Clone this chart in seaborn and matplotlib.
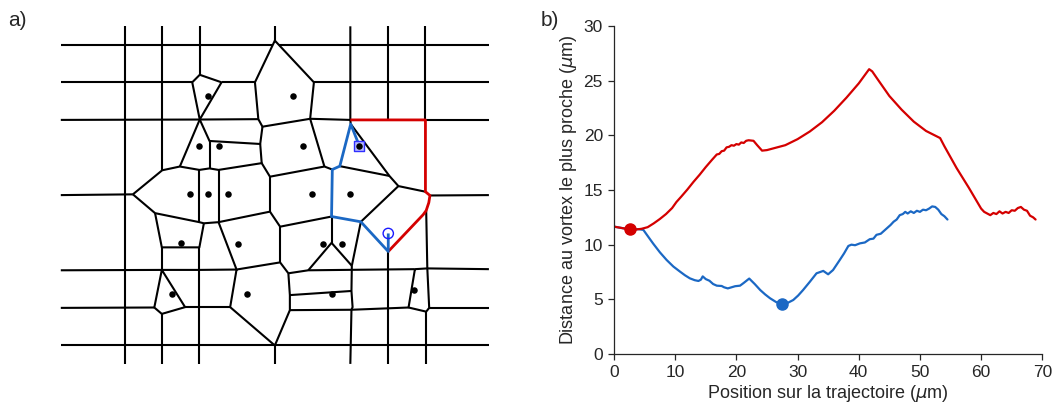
import numpy as np
import pandas as pd
import matplotlib
matplotlib.use("Agg")
import matplotlib.pyplot as plt
import seaborn as sns

sns.set_style("ticks")
plt.rcParams['font.family'] = ['Liberation Sans', 'DejaVu Sans']

# ---------------- Panel a) : Voronoi-like diagram (lattice units) ----------------
E, R, T, B = -1.71, 9.69, -0.49, 8.49
black_edges = [
    [(E, 0), (3.93, 0)], [(4.10, 0), (R, 0)],
    [(E, 1), (1.79, 1.0)], [(2.57, 1.0), (3.46, 1.0)], [(5.03, 1.0), (R, 1.0)],
    [(E, 2), (1.99, 1.99)], [(1.99, 1.99), (3.55, 1.98)], [(4.93, 1.97), (6.0, 2.0)],
    [(8.0, 2.0), (R, 2.0)],
    [(E, 4), (0.21, 3.98)], [(8.12, 4.01), (R, 4.0)],
    [(E, 6), (0.98, 5.99), (1.98, 5.99), (2.97, 5.98)],
    [(4.35, 6.08), (4.88, 6.0), (7.72, 5.97)], [(8.05, 5.95), (R, 5.97)],
    [(E, 7), (0.78, 6.99)], [(1.60, 6.98), (2.80, 6.98)],
    [(4.39, 7.06), (6.03, 7.05), (7.55, 6.99)], [(8.10, 7.0), (R, 7.0)],
    [(E, 8), (R, 8)],
    [(0, T), (0, B)], [(0.99, T), (0.99, 3.34)], [(0.98, 5.39), (0.98, 5.99)],
    [(0.98, 7.16), (0.98, B)], [(1.99, T), (1.99, 0.80)], [(1.98, 5.39), (1.98, B)],
    [(3.99, T), (3.99, -0.11)], [(3.99, 8.0), (3.99, B)],
    [(6.0, T), (6.0, 2.0), (6.01, 2.11)],
    [(6.04, 5.88), (6.03, 6.55), (6.06, 6.98), (6.03, 7.05), (6.0, B)],
    [(7.0, T), (7.0, 2.0)], [(7.01, 5.50), (7.01, B)],
    [(8.0, T), (8.0, 2.0)], [(8.02, 4.41), (8.05, 5.95)], [(8.02, 7.10), (8.02, B)],
    [(1.99, 0.80), (1.79, 1.0), (1.99, 1.99), (2.57, 1.0), (1.99, 0.80)],
    [(3.99, -0.11), (3.46, 1.0), (3.55, 1.98), (3.66, 2.18), (4.93, 1.97), (5.03, 1.0), (3.99, -0.11)],
    [(1.99, 1.99), (1.46, 3.24)],
    [(1.99, 1.99), (2.25, 2.56), (3.60, 2.64), (3.66, 2.18)],
    [(2.25, 2.56), (2.25, 3.29)],
    [(0.21, 3.98), (0.99, 3.34), (1.46, 3.24), (1.98, 3.33), (2.25, 3.29), (2.49, 3.33),
     (3.64, 3.15), (3.86, 3.51), (5.31, 3.24), (5.52, 3.32)],
    [(3.60, 2.64), (3.64, 3.15)], [(4.93, 1.97), (5.31, 3.24)],
    [(1.98, 3.33), (1.98, 4.72)], [(2.49, 3.33), (2.49, 4.72)], [(3.86, 3.51), (3.86, 4.44)],
    [(0.21, 3.98), (0.80, 4.48), (1.98, 4.72), (2.10, 4.75), (2.49, 4.72), (3.86, 4.44),
     (4.13, 4.84), (5.50, 4.57)],
    [(0.80, 4.48), (0.98, 5.39), (1.98, 5.39), (2.10, 4.75)],
    [(2.49, 4.72), (2.97, 5.98), (4.13, 5.79), (4.35, 6.08), (4.39, 6.66), (4.39, 7.06),
     (3.99, 8.0), (2.80, 6.98), (2.97, 5.98)],
    [(4.13, 4.84), (4.13, 5.79)], [(4.39, 6.66), (6.03, 6.55)],
    [(0.98, 5.99), (1.60, 6.98), (0.98, 7.16), (0.78, 6.99), (0.98, 5.99)],
    [(4.88, 6.0), (5.50, 5.27), (6.04, 5.88)], [(5.50, 4.57), (5.50, 5.27)],
    [(6.28, 4.71), (6.04, 5.88)],
    [(6.01, 2.11), (7.04, 3.49), (7.28, 3.76), (8.0, 3.91)],
    [(5.72, 3.23), (7.04, 3.49)], [(7.28, 3.76), (6.28, 4.71)],
    [(7.72, 5.97), (8.05, 5.95), (8.10, 7.0), (8.02, 7.10), (7.55, 6.99), (7.72, 5.97)],
]
blue_path = [(6.24, 2.69), (6.01, 2.11), (5.72, 3.23), (5.52, 3.32), (5.50, 4.57),
             (6.28, 4.71), (7.01, 5.50), (7.01, 5.02)]
red_path = [(6.0, 2.0), (8.0, 2.0), (8.0, 3.91), (8.12, 4.01), (8.09, 4.2), (8.02, 4.41),
            (7.94, 4.52), (7.01, 5.50)]
vortex_x = [2.22, 4.48, 1.98, 2.49, 4.75, 6.24, 1.73, 2.22, 2.73, 4.97, 6.0,
            1.48, 3.01, 5.27, 5.77, 1.24, 3.24, 5.50, 7.70]
vortex_y = [1.36, 1.36, 2.69, 2.69, 2.69, 2.69, 3.97, 3.97, 3.97, 3.98, 3.98,
            5.28, 5.30, 5.30, 5.30, 6.63, 6.64, 6.64, 6.52]
start_vortex = (6.24, 2.69)
end_point = (7.01, 5.02)

# ---------------- Panel b) : distance curves ----------------
red_x = [0, 1, 2, 2.6, 3.5, 4.5, 5.5, 6.5, 7.5, 8.5, 9.5, 10.2, 11, 12, 13, 14, 15, 16, 16.8,
         17.2, 17.6, 18.0, 18.4, 18.8, 19.2, 19.6, 20.0, 20.4, 20.8, 21.2, 21.6, 22.0, 22.8,
         23.4, 24.2, 25, 26, 28, 30, 32, 34, 36, 38, 40, 41.7, 42.2, 43, 45, 47, 49, 51,
         53.3, 54, 56, 58, 60, 60.5, 61, 61.5, 62, 62.5, 63, 63.5, 64, 64.5, 65, 65.5, 66,
         66.5, 67, 67.5, 68, 68.5, 68.9]
red_y = [11.65, 11.55, 11.45, 11.4, 11.38, 11.45, 11.6, 11.95, 12.35, 12.8, 13.35, 13.9, 14.4,
         15.05, 15.75, 16.4, 17.1, 17.75, 18.25, 18.3, 18.55, 18.6, 18.9, 18.95, 19.1, 19.05,
         19.2, 19.15, 19.35, 19.3, 19.5, 19.55, 19.5, 19.1, 18.6, 18.65, 18.8, 19.1, 19.65,
         20.35, 21.2, 22.25, 23.45, 24.75, 26.05, 25.85, 25.2, 23.6, 22.35, 21.25, 20.4,
         19.75, 19.0, 17.0, 15.2, 13.3, 13.0, 12.85, 12.7, 12.9, 12.8, 13.05, 12.85, 13.0,
         12.9, 13.15, 13.1, 13.35, 13.45, 13.2, 13.1, 12.65, 12.5, 12.3]
blue_x = [0, 1, 2, 3, 4, 4.8, 5.5, 6.4, 7.5, 8.6, 9.7, 10.8, 11.6, 12.4, 13.2, 13.8, 14.2, 14.5,
          15.0, 15.6, 16.2, 16.8, 17.6, 18.0, 18.6, 19.2, 19.8, 20.6, 21.2, 22.1, 23, 23.9,
          24.7, 25.5, 26.5, 27.4, 28.3, 29.3, 30.1, 30.9, 32, 33.1, 34.2, 35.0, 35.8, 36.9,
          37.6, 38.3, 38.8, 39.4, 40.2, 41, 41.8, 42.4, 42.9, 43.6, 44.6, 45.2, 45.7, 46.2,
          46.7, 47.2, 47.6, 48.0, 48.5, 49.0, 49.5, 50.0, 50.5, 51.0, 51.5, 52.0, 52.5, 53.0,
          53.5, 54.0, 54.5]
blue_y = [11.65, 11.55, 11.45, 11.4, 11.42, 11.35, 10.8, 10.1, 9.3, 8.6, 8.0, 7.53, 7.2, 6.92,
          6.75, 6.68, 6.8, 7.1, 6.85, 6.7, 6.4, 6.25, 6.22, 6.1, 6.0, 6.1, 6.2, 6.25, 6.5, 6.9,
          6.4, 5.85, 5.45, 5.1, 4.75, 4.57, 4.65, 4.94, 5.35, 5.85, 6.6, 7.38, 7.6, 7.29, 7.68,
          8.6, 9.2, 9.88, 10.0, 9.95, 10.12, 10.2, 10.5, 10.55, 10.9, 11.0, 11.5, 11.8, 12.1,
          12.3, 12.7, 12.8, 13.0, 12.85, 13.05, 12.9, 13.1, 13.0, 13.2, 13.15, 13.3, 13.5,
          13.45, 13.2, 12.8, 12.6, 12.3]
red_marker = (2.6, 11.4)
blue_marker = (27.4, 4.57)

RED = '#d40000'
BLUE = '#1b68c4'
INK = '#262626'

fig = plt.figure(figsize=(10.54, 4.12), dpi=100)

# ---- left panel
axa = fig.add_axes([60.8 / 1054, 1 - 363.9 / 412, (488.9 - 60.8) / 1054, (363.9 - 26.3) / 412])
rows = []
for i, seg in enumerate(black_edges):
    for (x, y) in seg:
        rows.append((x, y, i))
df_edges = pd.DataFrame(rows, columns=['x', 'y', 'seg'])
sns.lineplot(data=df_edges, x='x', y='y', units='seg', estimator=None, sort=False,
             color='black', lw=1.5, ax=axa, legend=False)
for path, col in [(red_path, RED), (blue_path, BLUE)]:
    dfp = pd.DataFrame(path, columns=['x', 'y'])
    sns.lineplot(data=dfp, x='x', y='y', sort=False, estimator=None, color=col, lw=2.0,
                 ax=axa, legend=False)
sns.scatterplot(x=[start_vortex[0]], y=[start_vortex[1]], marker='s', s=55,
                facecolor='#b9b9ff', edgecolor='#3030ff', linewidth=1.0, ax=axa, zorder=5)
sns.scatterplot(x=vortex_x, y=vortex_y, color='black', s=22, linewidth=0, ax=axa, zorder=6)
sns.scatterplot(x=[end_point[0]], y=[end_point[1]], marker='o', s=55,
                facecolor='none', edgecolor='#1a1aff', linewidth=1.0, ax=axa, zorder=6)
for ln in axa.lines:
    ln.set_clip_on(False)
    ln.set_solid_capstyle('butt')
axa.set_xlim(E, R)
axa.set_ylim(B, T)
axa.axis('off')

# ---- right panel
axb = fig.add_axes([614 / 1054, 1 - 354 / 412, (1042.3 - 614) / 1054, (354 - 26) / 412])
sns.lineplot(x=blue_x, y=blue_y, sort=False, estimator=None, color=BLUE, lw=1.6, ax=axb)
sns.lineplot(x=red_x, y=red_y, sort=False, estimator=None, color=RED, lw=1.6, ax=axb)
axb.plot([red_marker[0]], [red_marker[1]], 'o', color=RED, ms=8, zorder=5)
axb.plot([blue_marker[0]], [blue_marker[1]], 'o', color=BLUE, ms=8, zorder=5)
axb.set_xlim(0, 70)
axb.set_ylim(0, 30)
axb.set_xticks(range(0, 71, 10))
axb.set_yticks(range(0, 31, 5))
sns.despine(ax=axb)
for s in ['left', 'bottom']:
    axb.spines[s].set_color(INK)
    axb.spines[s].set_linewidth(0.9)
axb.tick_params(direction='out', length=4, width=0.9, color=INK, labelcolor=INK,
                labelsize=12.5, pad=4)
axb.set_xlabel('Position sur la trajectoire ($\\mu$m)', fontsize=13, color=INK, labelpad=2)
axb.set_ylabel('Distance au vortex le plus proche ($\\mu$m)', fontsize=13, color=INK,
               labelpad=3)

fig.text(8 / 1054, 1 - 20 / 412, 'a)', fontsize=15, color=INK, va='center', ha='left')
fig.text(541 / 1054, 1 - 20 / 412, 'b)', fontsize=15, color=INK, va='center', ha='left')

fig.savefig('out.png', dpi=100)
